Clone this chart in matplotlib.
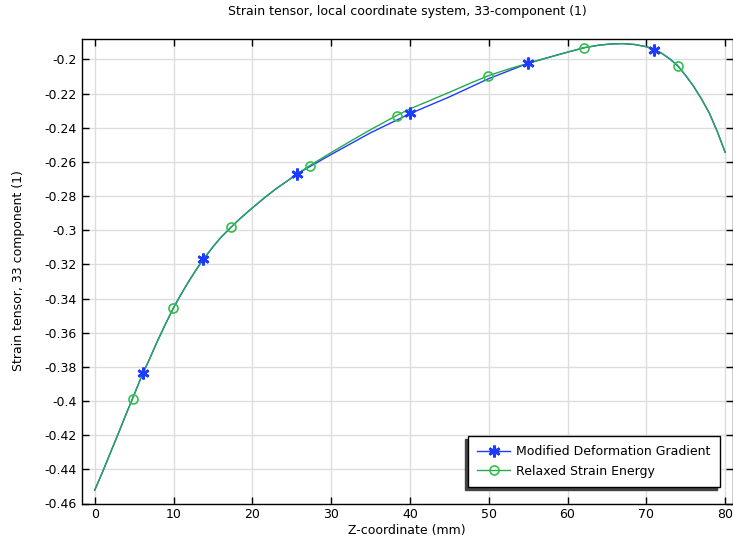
import matplotlib
matplotlib.use('Agg')
import matplotlib.pyplot as plt
from matplotlib.lines import Line2D
from matplotlib.ticker import FuncFormatter
import numpy as np

# Relaxed Strain Energy (green), curve
z_green = [0, 1, 2, 3, 4, 4.8, 6, 7, 8, 9, 10, 11, 12, 13, 13.8, 15, 16, 17.3,
           18.5, 20, 21.5, 23, 24.5, 25.7, 27.3, 28.5, 30, 32.5, 35, 38.3, 40,
           42.5, 45, 47.5, 50, 52.5, 55, 57.5, 60, 62.1, 64, 65.5, 67, 68.5, 70,
           71, 72, 73, 74, 75, 76, 77, 78, 79, 80]
e_green = [-0.4522, -0.4415, -0.4302, -0.4190, -0.4075, -0.3986, -0.3850,
           -0.3750, -0.3645, -0.3548, -0.3454, -0.3372, -0.3295, -0.3223,
           -0.3170, -0.3098, -0.3043, -0.2983, -0.2930, -0.2870, -0.2812,
           -0.2758, -0.2710, -0.2670, -0.2622, -0.2588, -0.2546, -0.2478,
           -0.2412, -0.2329, -0.2290, -0.2242, -0.2193, -0.2143, -0.2095,
           -0.2057, -0.2023, -0.1990, -0.1958, -0.1932, -0.1917, -0.1910,
           -0.1908, -0.1913, -0.1926, -0.1942, -0.1966, -0.1998, -0.2038,
           -0.2095, -0.2158, -0.2232, -0.2315, -0.2422, -0.2544]
z_green_mk = [4.8, 9.96, 17.3, 27.3, 38.3, 49.95, 62.1, 74.0]
e_green_mk = [-0.3986, -0.3454, -0.2983, -0.2622, -0.2329, -0.2095, -0.1932, -0.2038]

# Modified Deformation Gradient (blue)
z_blue = [0, 1, 2, 3, 4, 4.8, 6, 7, 8, 9, 10, 11, 12, 13, 13.8, 15, 16, 17.3,
          18.5, 20, 21.5, 23, 24.5, 25.7, 30, 35, 40.1, 45, 50, 55, 57.5, 60,
          62.1, 64, 65.5, 67, 68.5, 70, 71, 72, 73, 74, 75, 76, 77, 78, 79, 80]
e_blue = [-0.4522, -0.4415, -0.4302, -0.4190, -0.4075, -0.3986, -0.3850,
          -0.3750, -0.3645, -0.3548, -0.3454, -0.3372, -0.3295, -0.3223,
          -0.3170, -0.3098, -0.3043, -0.2983, -0.2930, -0.2870, -0.2812,
          -0.2758, -0.2710, -0.2670, -0.2557, -0.2430, -0.2316, -0.2220,
          -0.2113, -0.2023, -0.1990, -0.1958, -0.1932, -0.1917, -0.1910,
          -0.1908, -0.1913, -0.1926, -0.1942, -0.1966, -0.1998, -0.2038,
          -0.2095, -0.2158, -0.2232, -0.2315, -0.2422, -0.2544]
z_blue_mk = [6.1, 13.76, 25.67, 40.06, 55.0, 71.0]
e_blue_mk = [-0.3834, -0.3170, -0.2670, -0.2316, -0.2023, -0.1943]

x_ticks = list(range(0, 81, 10))
y_ticks = [round(v, 2) for v in np.arange(-0.46, -0.199, 0.02)]

blue = '#1e3cff'
green = '#25a852'
star = (6, 2, 0)

plt.rcParams['font.family'] = ['DejaVu Sans']
plt.rcParams['font.size'] = 9

fig = plt.figure(figsize=(7.33, 5.42), dpi=100)
ax = fig.add_axes([81.7 / 733, 1 - 503.5 / 542, (732.6 - 81.7) / 733, (503.5 - 38.5) / 542])

ax.plot(z_blue, e_blue, color=blue, lw=1.0, zorder=3)
ax.plot(z_blue_mk, e_blue_mk, ls='none', marker=star, ms=8.5, mew=1.9,
        color=blue, zorder=5)
ax.plot(z_green, e_green, color=green, lw=1.0, zorder=4)
ax.plot(z_green_mk, e_green_mk, ls='none', marker='o', ms=6.5, mew=1.2,
        mfc='none', mec='#33c04a', zorder=6)

ax.set_xlim(-1.65, 80.95)
ax.set_ylim(-0.46, -0.1878)
ax.set_xticks(x_ticks)
ax.set_yticks(y_ticks)
ax.yaxis.set_major_formatter(FuncFormatter(lambda v, p: '%g' % round(v, 2)))
ax.tick_params(direction='in', top=True, right=True, length=5, width=1,
               labelsize=9)
ax.grid(True, color='#dddddd', lw=1.0)
ax.set_axisbelow(True)
for s in ax.spines.values():
    s.set_linewidth(1.0)

ax.set_title('Strain tensor, local coordinate system, 33-component (1)',
             fontsize=9, pad=17)
ax.set_xlabel('Z-coordinate (mm)', fontsize=9, labelpad=2)
ax.set_ylabel('Strain tensor, 33 component (1)', fontsize=9, labelpad=14)

handles = [
    Line2D([], [], color=blue, lw=1.0, marker=star, ms=8.5, mew=1.9),
    Line2D([], [], color=green, lw=1.0, marker='o', ms=6.5, mew=1.2,
           mfc='none', mec='#33c04a'),
]
leg = ax.legend(handles, ['Modified Deformation Gradient', 'Relaxed Strain Energy'],
                loc='lower right', bbox_to_anchor=(0.9805, 0.035), fontsize=9,
                fancybox=False, framealpha=1, edgecolor='black',
                shadow={'ox': -2.2, 'oy': -2.2, 'alpha': 1,
                        'facecolor': '#444444', 'edgecolor': '#444444'},
                handlelength=2.6, borderpad=0.75, labelspacing=0.55,
                handletextpad=0.5, borderaxespad=0)
leg.get_frame().set_linewidth(1.0)
leg.set_zorder(10)

fig.savefig('out.png', dpi=100)
